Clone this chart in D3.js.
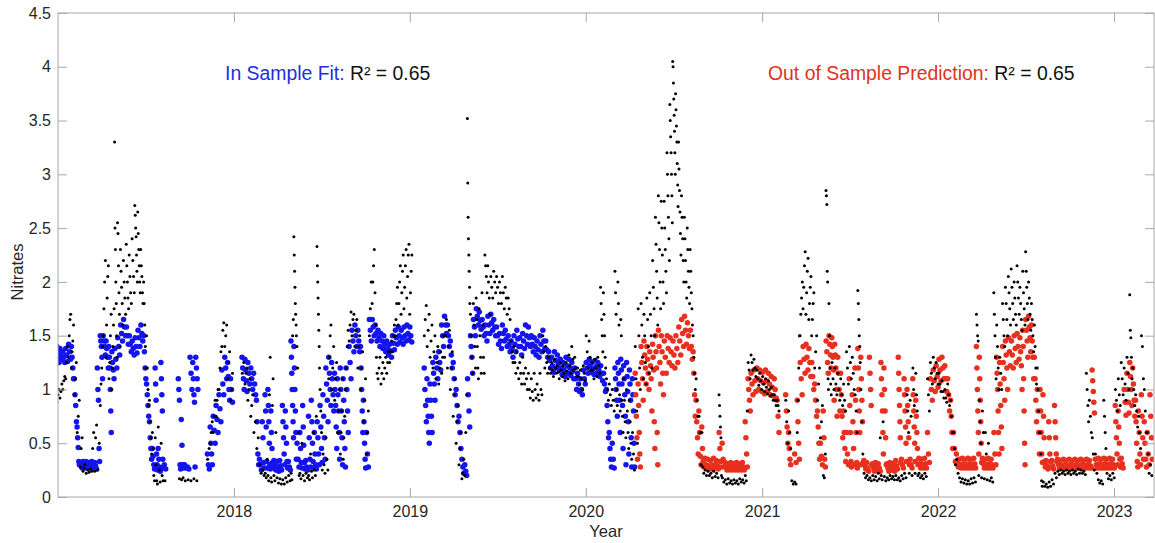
<!DOCTYPE html>
<html>
<head>
<meta charset="utf-8">
<script src="https://cdn.jsdelivr.net/npm/d3@7"></script>
<style>
  html, body { margin: 0; padding: 0; background: #ffffff; }
  svg { display: block; font-family: "Liberation Sans", Arial, Helvetica, sans-serif; }
</style>
</head>
<body>
<svg id="chart" width="1155" height="543"></svg>
<script>
// ---- data -------------------------------------------------------------
// Each series is a run of 6-day steps starting at seriesStart.
// A token holds the readings (nitrate x 100) of one step, separated by "/";
// "-" marks a step without readings.
const seriesStart = "2017-01-01";
const stepDays = 6;

const yearTicks = [2018, 2019, 2020, 2021, 2022, 2023];
const nitrateTicks = [0, 0.5, 1, 1.5, 2, 2.5, 3, 3.5, 4, 4.5];

// measured nitrates (black)
const observed = [
  "88/95/100 92/98/105 100/108/112 110/125/140 130/150/165/170 120/135/145/160 95/110/125 60/75/90 28/45/55 24/27/30",
  "22/25 23/26 24/45/60 24/55/67 25/50 85/105/120/140 150/175/200/220 130/160/185/205/215 110/125/150/170 100/120/140/160/175",
  "330/250/230/200/180/150/130 255/245/215/190/170/140 230/210/195/180/160 220/200/185/170 235/215/200/185/175 225/205/190/180 240/220/205/190 271/262/250/242/225/210/200 265/245/230/215/200/190 230/215/205/190/180",
  "200/180/160/140/120 150/120/100/85 90/70/55/40 60/45/20/15 55/30/15/12 65/25/14 50/20/15 15 - -",
  "- - 17 16/18 15 16 15 17 15 -",
  "- - 35/45 50/60/70 60/75/90 75/90/100 100/120/135 140/155/162 140/150/160 110/125/135",
  "90/100/115 - - - 115/125 105/115/120 90/100/110 75/85/95 60/70 45/55",
  "30/22 25/20 22/18/35 20/15/95/130 18/14/85/110 20/15/60 18/13 17/12 16/12 18/14",
  "20/15 22/16/150/165 242/225/210/195/180/170/160/150 140/120/60/20 22/17/50 20/15 22/18 20/16/40 24/18/60 25/20/75",
  "233/215/200/185/170/155/140/120 100/80/60/25 40/30/22 55/35/25 110/130/150/160 100/120/140 90/110/125 60/80/100 40/60/80/110 35/55/75/100",
  "120/140/155 145/160/172 150/165/170 140/155/165 120/140/150 100/120/135 70/90/110 40/60/80 150/175/200 180/200/215/230",
  "190/160/130/115 110/120/130 105/115/125 110/120/130 115/125/135 125/135/145 135/150/160 150/165/180/195 160/180/200/215 170/190/210/225",
  "175/195/215/230 185/205/225/235 170/190/210/225 - - - - 150/165/178 140/155/170 130/145/160",
  "120/135/150 110/125/140 105/120/135 115/130/150 130/150/165 120/140/155 100/120/135 75/95/110 50/70/85 30/45/60",
  "17/22/35 20/60/95 352/292/260/240/225/210/195/180 170/150/130/115 180/160/140/120 185/165/140/120/110 175/150/130/115 190/160/130/115 225/215/205/190 215/200/185/170",
  "205/195/185 210/200/190 205/195/180 200/190/180 205/190/175 195/185/170 185/175/165 145/135/125 140/125/115 135/120/110",
  "125/115/105 130/115/105 120/110/100 115/100/92 110/98/90 115/100/92 105/95/90 115/100/95 150/135/120 140/125/115",
  "130/120/115 125/118/112 128/120/115 122/116/110 125/118/112 122/115/108 125/117/110 132/122/115 140/128/118 130/120/112",
  "120/112/105 118/110/100 122/115/108 150/135/120 145/130/118 125/118/110 128/120/112 130/122/115 195/180/165/150/135 190/170/150/130/120",
  "110/100/90 105/95/85 100/90/80 210/190/170/100/85 200/180/160/95/80 165/150/90/75/60 110/90/70/55 100/80/60/45 90/70/50/35 60/40/25",
  "140/110/80/50 175/150/120/100 180/160/130/110 170/150/125/105 185/165/140/115 190/170/150/120 220/195/175/150 260/235/210/185/160 280/255/230/200/175 275/250/225/200/180",
  "275/250/230/210/190 320/300/280/260/240/220 365/350/335/320/300/280/255 405/400/385/370/355/340/320/300 375/360/345/330/310/290/270 330/305/285/265/245/225 280/260/240/220/200 260/240/220/200/185 250/230/210/195/180 230/210/190/175/160",
  "150/130/115/100 110/90/75 75/60/30 60/28/22 25/20 24/20 22/18 24/19 22/18 95/85/75/65/55/20",
  "18/14 16/12 17/13 15/12 16/13 15/12 17/14 16/13 20/15/80 125/118/110",
  "132/125/118 128/120/112 118/110/104 115/108/100 112/105/98 110/102/96 108/100/94 102/95/90 95/90/85 90/85/80",
  "- - 90/70/50 80/60/45 15/12 14/12 60/90/120/150 150/170/185/200 175/195/215/228 170/190/210/222",
  "165/180/195/205 150/165/180/190 120/135/150 90/105/120 55/70/85 20/18/40 285/280/272/210/200/110/100 180/150/120/105/95 125/110/100 120/105/95",
  "115/100/90 110/95/85 105/90/80 135/120/105 140/125/110 130/115/100 95/80/60 192/180/165/150/140/125 100/70/40 22/18",
  "20/16 18/15 20/16 19/15 22/17/55 20/16/70 19/15 18/16 20/17 19/16",
  "20/16 18/15 20/17 22/18 95/80/60/22 90/75/20 120/100/85/22 115/95/80/20 22/18 20/17",
  "22/19 110/95/80 125/115/105 130/120/110 125/115/105 115/105/98 108/98/92 100/92/88 105/95/85 90/75/60",
  "60/45/30 35/22 18/14 17/13 16/12 15/12 17/13 18/14 170/160/150/145/20 90/70/50/18",
  "80/60/17 60/40/16 50/15 18/14 190/170/150/130/110 160/140/120/100 130/115/100 180/165/150/140 195/180/165/150 205/190/175/160",
  "212/195/180/165 200/185/170/160 215/200/185/170 195/180/165/155 210/190/175/160 228/210/195/180/165 200/185/170/155 180/165/150/135 160/140/120/105 120/100/80/60",
  "60/40/15/10 14/10 12/9 14/10 16/12 22/18 24/21 25/22 24/21 25/22",
  "24/21 25/22 24/21 26/22 25/22 24/21 115/100/85/70 90/75/60 55/40/25 40/22",
  "16/13 15/12 90/75/60/45 22/17 20/16 22/18 100/90/80 110/95/85 125/110/95 120/105/90",
  "130/115/100 188/155/148/130/110 120/100/85 95/80/65 75/60/45 150/140/110 100/80/60 60/40/22 30/20"
];

// model fitted on the training period (blue), starts at step 0
const inSampleFit = [
  "140/135/130/125 138/132/128 135/130/125 138/132/126 142/135/128 140/130/120/110 110/95/85/70 65/55/46/33/30 32/30/27 33/30/27",
  "33/30/27 32/29/27 33/30/27 32/29/26 120/100/90/45/33 150/145/140/130/110 150/145/140/132 145/138/130/120 140/130/120/100/80/60 135/125/118/110",
  "138/128/120 148/140/132 160/152/145 165/158/150 158/150/142 150/142/135 145/138/132 148/140/134 155/148/140 160/152/145",
  "150/135/120/110 105/95/85/75 70/55/45/35 45/38/30/26 120/105/90/40/30/25 45/35/28/24 125/110/95/80/35/27 30/26 - -",
  "- - 110/100/90/30/26 72/48/30/27 30/27 28/26 130/115/100 125/110/95/88/28 130/120/110/100 -",
  "- - 40/30/26 65/50/40/30 75/62/50 85/72/60 95/82/70 118/105/95 130/120/110 125/112/100/90",
  "110/100/88 - - - 130/120/110/100 128/118/108/98 125/115/105 120/110/100 115/105/95 90/70/40/30",
  "35/30/25 70/55/32/27 95/80/65/33/27 100/85/70/50/30/26 80/60/45/32/27 34/29/25 33/28/24 34/29/25 85/70/55/40/30 80/65/50/33/27",
  "33/28/25 145/130/115/100/85/70/55 140/120/100/80/60/35 50/35/28 60/45/32/27 85/65/48/32/26 34/28/25 75/55/35/28 90/70/50/33/27 60/40/30/26",
  "70/55/40/30 85/65/45/32 95/75/55/35 120/105/90/70 130/115/100/85 125/110/95/80 115/100/85/65/45 110/95/80/60/35 120/100/80/55/30 110/90/70/45/28",
  "120/100/80/60 140/125/110 155/145/135 160/150/140 155/145/135 140/120/100/80/60 90/70/50/35/27 60/40/28 165/155/145 165/158/150",
  "160/152/145 155/148/140 152/145/138 150/142/135 145/138/132 142/136/130 150/143/137 155/148/142 158/150/144 155/148/142",
  "158/150/145 160/152/146 158/150/144 - - - - 120/100/85/70 110/90/75/60/50 105/90/75/60",
  "125/115/105/90 130/120/110 135/125/118 160/150/140 168/160/152 160/150/140 145/132/120 125/110/95 100/85/70 75/60/45",
  "35/28/22 30/24/20 110/95/80/65 150/140/130/115 165/158/150 175/168/160 172/164/156 165/158/150 160/152/145 168/160/152",
  "170/162/155 165/158/150 158/150/142 152/145/138 160/152/145 155/147/140 150/142/135 145/138/130 150/142/135 155/147/140",
  "148/140/132 152/145/138 160/150/142 158/148/140 150/142/135 148/140/132 145/137/130 150/142/135 155/145/138 145/137/130",
  "135/127/120 130/122/116 135/127/120 132/124/118 128/120/114 125/118/112 130/122/115 128/120/113 125/117/110 120/110/100",
  "115/105/98 110/100/95 118/110/105 125/120/115 128/122/116 125/119/114 127/121/115 125/118/112 122/115/108 115/105/98",
  "100/85/70/55 60/45/35/28 50/35/27 120/110/100/90/75 125/115/105/90/60 128/118/105/85/45 122/110/95/75/30 125/112/98/70/40 118/105/90/55/28 110/95/80/50/28"
];

// model predictions on the held-out period (red), starts at step 200
const predictionFirstStep = 200;
const outOfSamplePrediction = [
  "115/95/75/55/35 105/85/60/40/28 140/125/110/90 145/132/120/105 140/128/115/100 135/122/110/80 142/130/118/70/45 150/135/120/60/30 155/140/125/105 150/135/115/95",
  "145/130/115 150/138/125 148/135/122 145/132/120 150/138/125 158/145/132 165/152/140 168/155/142 162/150/138 155/140/128",
  "135/115/95/75 90/70/55/40 80/60/38/30 65/45/34/28 36/30/27 35/29/26 34/29/26 36/30/27 34/29/26 60/45/33/28",
  "50/35/28 32/28/25 31/27/25 32/28/25 31/27/25 32/28/25 31/27/25 32/28/25 70/55/40/28 110/100/90/80",
  "115/105/95 118/108/98 120/110/100 118/108/98 116/106/96 118/108/98 115/105/95 112/102/94 110/100/92 90/75/60",
  "- - 95/80/65/50 60/45/35/30 - 40/32 90/70/50/35 125/110/95 140/128/115 142/130/118",
  "138/125/112 125/112/100 105/90/75 80/65/50/35 50/38/30 80/55/35/28 145/135/125/115 150/142/132/120 148/140/130/118/90 142/132/120/100/75",
  "130/115/100/80 115/95/75/55 80/60/45/33 60/40/30 110/85/60/33/28 95/70/45/30 120/90/60/32/27 138/120/100/80/60/30 130/110/90/70/32 34/29/26",
  "32/27/24 130/115/100/85/30 31/27/24 32/28/25 31/27/24 125/110/95/80/60/40 120/100/80/55/30 31/27/24 32/28/25 31/27/24",
  "34/29/26 130/115/100/85/70/55/32 35/30/27 110/95/80/65/50/33 100/85/70/55/30 35/30/27 110/95/80/65/50/33 90/75/60/45/30 36/31/27 35/30/27",
  "36/31/27 60/40/32 110/100/90 118/108/98 122/112/102 128/118/108 130/120/110 122/110/98 110/95/80 90/75/60/45",
  "60/45/33 40/32/28 35/30/27 36/31/27 35/30/27 36/31/27 35/30/27 36/31/27 140/120/100/80/60/40 130/110/90/70/50/32",
  "36/31/27 35/30/27 36/31/27 35/30/27 60/40/30 130/115/100/80/60/40 125/105/85/65/45 140/125/110/90 145/132/120/100 148/135/122",
  "145/132/120 150/138/125 152/140/128 148/135/122/100 155/140/110/80/50/30 165/155/145/130 168/158/148/135 160/145/130/110 130/110/90/70 100/80/60/40",
  "100/80/60/40/32 95/75/55/33/28 34/29/26 70/55/40/33/28 34/29/26 85/70/55/40/33 35/30/27 34/29/27 35/30/27 34/29/27",
  "35/30/27 34/29/27 35/30/27 34/29/27 35/30/27 34/29/27 35/30/27 34/29/27 118/108/98/88/78 35/30/27",
  "36/31/27 35/30/27 36/31/27 35/30/27 36/31/27 35/30/27 85/70/55/40/30 80/65/50/35/28 36/31/27 100/88/76",
  "115/100/88/78 125/112/100/85 120/105/90/75 90/70/50/33/28 80/60/40/30 95/75/55/35 70/50/35/28 60/40/30 95/75/55/35"
];

const inSampleR2 = 0.65;
const outOfSampleR2 = 0.65;

// ---- build points ------------------------------------------------------
const parseDay = d3.timeParse("%Y-%m-%d");
const day0 = parseDay(seriesStart);
const msPerDay = 864e5;

// readings of one step are spread evenly across that step, centred on it
function expand(chunks, firstStep) {
  const pts = [];
  chunks.join(" ").trim().split(/\s+/).forEach((tok, k) => {
    if (tok === "-") return;
    const centre = +d3.timeDay.offset(day0, (firstStep + k) * stepDays);
    const vals = tok.split("/");
    const n = vals.length;
    vals.forEach((v, j) => {
      const frac = (j + 0.5) / n - 0.5;
      pts.push({ date: new Date(centre + frac * stepDays * msPerDay), value: +v / 100 });
    });
  });
  return pts;
}

const observedPts = expand(observed, 0);
const fitPts = expand(inSampleFit, 0);
const predPts = expand(outOfSamplePrediction, predictionFirstStep);

// ---- layout ------------------------------------------------------------
const plot = { left: 58, right: 1154, top: 13, bottom: 497 };

const x = d3.scaleTime()
  .domain([day0, new Date(2023, 2, 25)])
  .range([plot.left, plot.right]);
const y = d3.scaleLinear()
  .domain([0, 4.5])
  .range([plot.bottom, plot.top]);

const svg = d3.select("#chart");
const axisColor = "#a8a8a8";
const labelColor = "#262626";

svg.append("defs").append("clipPath").attr("id", "plotClip")
  .append("rect")
  .attr("x", plot.left).attr("y", plot.top)
  .attr("width", plot.right - plot.left).attr("height", plot.bottom - plot.top);

const marks = svg.append("g").attr("clip-path", "url(#plotClip)");

function drawDots(pts, r, color) {
  marks.append("g").selectAll("circle").data(pts).join("circle")
    .attr("cx", d => x(d.date))
    .attr("cy", d => y(d.value))
    .attr("r", r)
    .attr("fill", color);
}

drawDots(fitPts, 2.75, "#1414f0");
drawDots(predPts, 2.75, "#e8301e");
drawDots(observedPts, 1.5, "#000000");

// ---- axes (box with inward ticks on all sides) --------------------------
const yearDates = yearTicks.map(yr => new Date(yr, 0, 1));
const tickLen = 9;

const xAxis = svg.append("g")
  .attr("transform", `translate(0,${plot.bottom})`)
  .call(d3.axisBottom(x).tickValues(yearDates).tickFormat(d3.timeFormat("%Y"))
    .tickSizeInner(-tickLen).tickSizeOuter(0).tickPadding(9));
const xAxisTop = svg.append("g")
  .attr("transform", `translate(0,${plot.top})`)
  .call(d3.axisTop(x).tickValues(yearDates).tickFormat("")
    .tickSizeInner(-tickLen).tickSizeOuter(0));
const yAxis = svg.append("g")
  .attr("transform", `translate(${plot.left},0)`)
  .call(d3.axisLeft(y).tickValues(nitrateTicks).tickFormat(d3.format("~g"))
    .tickSizeInner(-tickLen).tickSizeOuter(0).tickPadding(7));
const yAxisRight = svg.append("g")
  .attr("transform", `translate(${plot.right},0)`)
  .call(d3.axisRight(y).tickValues(nitrateTicks).tickFormat("")
    .tickSizeInner(-tickLen).tickSizeOuter(0));

[xAxis, xAxisTop, yAxis, yAxisRight].forEach(g => {
  g.select(".domain").remove();
  g.selectAll(".tick line").attr("stroke", axisColor).attr("stroke-width", 1);
  g.selectAll(".tick text")
    .attr("fill", labelColor)
    .style("font-size", "16px")
    .style("font-family", '"Liberation Sans", Arial, Helvetica, sans-serif');
});

svg.append("rect")
  .attr("x", plot.left).attr("y", plot.top)
  .attr("width", plot.right - plot.left).attr("height", plot.bottom - plot.top)
  .attr("fill", "none").attr("stroke", axisColor).attr("stroke-width", 1);

// axis titles
svg.append("text")
  .attr("x", (plot.left + plot.right) / 2).attr("y", 537)
  .attr("text-anchor", "middle")
  .attr("fill", labelColor).style("font-size", "16.5px")
  .text("Year");

svg.append("text")
  .attr("transform", `translate(23,${(plot.top + plot.bottom) / 2 + 17}) rotate(-90)`)
  .attr("text-anchor", "middle")
  .attr("fill", labelColor).style("font-size", "16.5px")
  .text("Nitrates");

// ---- goodness-of-fit annotations ---------------------------------------
const fmtR2 = d3.format(".2f");
function annotate(px, label, color, r2) {
  const t = svg.append("text").attr("x", px).attr("y", 80).style("font-size", "19.4px");
  t.append("tspan").attr("fill", color).text(label + ": ");
  t.append("tspan").attr("fill", "#111111").text("R\u00B2 = " + fmtR2(r2));
}
annotate(225, "In Sample Fit", "#2230dc", inSampleR2);
annotate(768, "Out of Sample Prediction", "#e0321f", outOfSampleR2);
</script>
</body>
</html>
